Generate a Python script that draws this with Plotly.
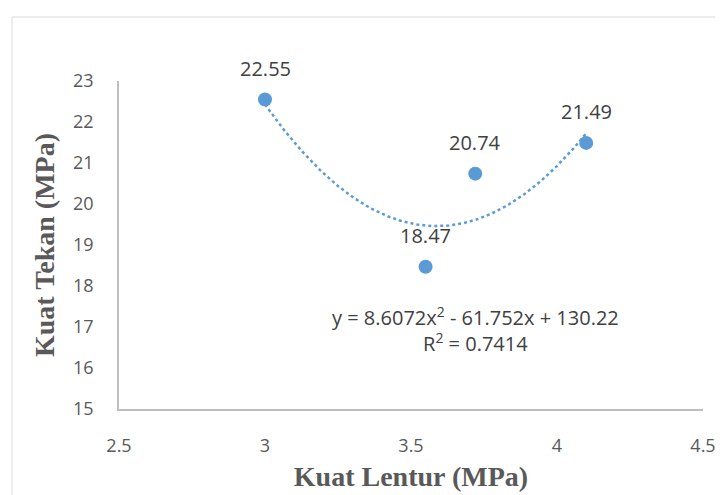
import plotly.graph_objects as go
import numpy as np

# Data
kuat_lentur = [3.00, 3.55, 3.72, 4.10]
kuat_tekan = [22.55, 18.47, 20.74, 21.49]
point_labels = ["22.55", "18.47", "20.74", "21.49"]
trend_coef = [8.6072, -61.752, 130.22]  # y = a x^2 + b x + c
trend_text = "y = 8.6072x<sup>2</sup> - 61.752x + 130.22<br>R<sup>2</sup> = 0.7414"
x_ticks = [2.5, 3, 3.5, 4, 4.5]
y_ticks = [15, 16, 17, 18, 19, 20, 21, 22, 23]

blue = "#5B9BD5"
txt = "#595959"

xs = np.linspace(min(kuat_lentur), max(kuat_lentur), 200)
ys = np.polyval(trend_coef, xs)

fig = go.Figure()
fig.add_trace(go.Scatter(x=xs, y=ys, mode="lines",
                         line=dict(color=blue, width=2.5, dash="dot"),
                         hoverinfo="skip", showlegend=False))
fig.add_trace(go.Scatter(x=kuat_lentur, y=kuat_tekan, mode="markers",
                         marker=dict(color=blue, size=14),
                         showlegend=False))

for x, y, t in zip(kuat_lentur, kuat_tekan, point_labels):
    fig.add_annotation(x=x, y=y, text=t, showarrow=False, yshift=31,
                       font=dict(family="Open Sans", size=20, color="#404040"))

fig.add_annotation(x=3.72, y=16.95, text=trend_text, showarrow=False,
                   align="center",
                   font=dict(family="Open Sans", size=20, color="#404040"))

# page body has an 8px margin: figure is offset by (8, 8) in the window
W, H = 715, 487
L, T = 111, 73
PW, PH = 584, 328
fig.add_shape(type="rect", xref="paper", yref="paper",
              x0=(4 - L) / PW, x1=1.2, y0=-0.5, y1=(T + PH - 9) / PH,
              line=dict(color="#D9D9D9", width=1), layer="below")

fig.update_layout(
    width=W, height=H,
    margin=dict(l=L, r=W - L - PW, t=T, b=H - T - PH, autoexpand=False),
    paper_bgcolor="white", plot_bgcolor="white",
    xaxis=dict(range=[2.5, 4.5], tickvals=x_ticks, ticktext=[str(v) for v in x_ticks],
               showgrid=False, zeroline=False, showline=True, automargin=False,
               linecolor="#BFBFBF", linewidth=1.5, ticks="",
               ticklabelstandoff=20,
               tickfont=dict(family="Open Sans", size=18, color=txt),
               title=dict(text="<b>Kuat Lentur (MPa)</b>", standoff=10,
                          font=dict(family="Liberation Serif", size=28, color=txt))),
    yaxis=dict(range=[15, 23], tickvals=y_ticks,
               showgrid=False, zeroline=False, showline=True, automargin=False,
               linecolor="#BFBFBF", linewidth=1.5, ticks="",
               ticklabelstandoff=20,
               tickfont=dict(family="Open Sans", size=18, color=txt),
               title=dict(text="<b>Kuat Tekan (MPa)</b>", standoff=10,
                          font=dict(family="Liberation Serif", size=28, color=txt))),
)

fig.write_html("out.html")
